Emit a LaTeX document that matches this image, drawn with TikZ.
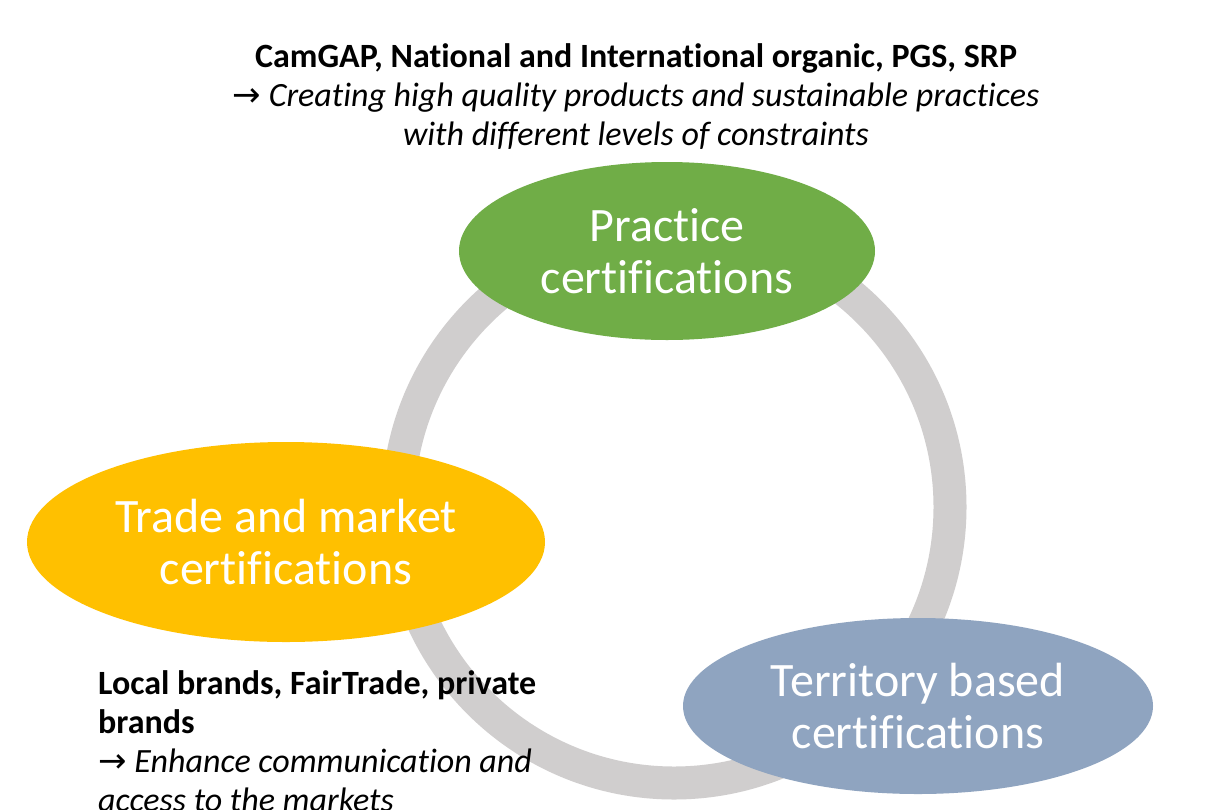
\documentclass[tikz,border=0pt]{standalone}
\usepackage{fontspec}
\setmainfont{Carlito}[Ligatures={NoCommon}]
\newfontfamily\arrowfont{DejaVu Sans}
\usetikzlibrary{shapes.geometric}

\definecolor{practicegreen}{HTML}{70AD47}
\definecolor{tradeyellow}{HTML}{FFC000}
\definecolor{territoryblue}{HTML}{8FA4C0}
\definecolor{ringgray}{HTML}{D0CECE}

\begin{document}
\begin{tikzpicture}[x=1pt, y=-1pt,
	cert/.style={ellipse, text=white, align=center, inner sep=0pt,
		font=\fontsize{48}{52}\selectfont},
	note/.style={text=black, inner sep=0pt,
		font=\fontsize{34}{39}\selectfont}]
	\useasboundingbox[fill=white] (0,0) rectangle (1209,809);

	% Draw ring
	\coordinate (hub) at (674,507);
	\draw[color=ringgray, line width=33pt] (hub) circle [radius=276pt];

	% Plot certification ellipses
	\node[cert, fill=practicegreen, minimum width=416pt, minimum height=178pt] (practice) at (667,251) {Practice\\certifications};
	\node[cert, fill=tradeyellow, minimum width=518pt, minimum height=200pt] (trade) at (286,542) {Trade and market\\certifications};
	\node[cert, fill=territoryblue, minimum width=470pt, minimum height=176pt] (territory) at (918,706) {Territory based\\certifications};

	% Add notes
	\node[note, align=center] (practicenote) at (636,97) {\textbf{CamGAP, National and International organic, PGS, SRP}\\{\arrowfont →} \textit{Creating high quality products and sustainable practices}\\\textit{with different levels of constraints}};
	\node[note, align=left, anchor=north west] (tradenote) at (98,670) {\textbf{Local brands, FairTrade, private}\\\textbf{brands}\\{\arrowfont →} \textit{Enhance communication and}\\\textit{access to the markets}};
\end{tikzpicture}
\end{document}
